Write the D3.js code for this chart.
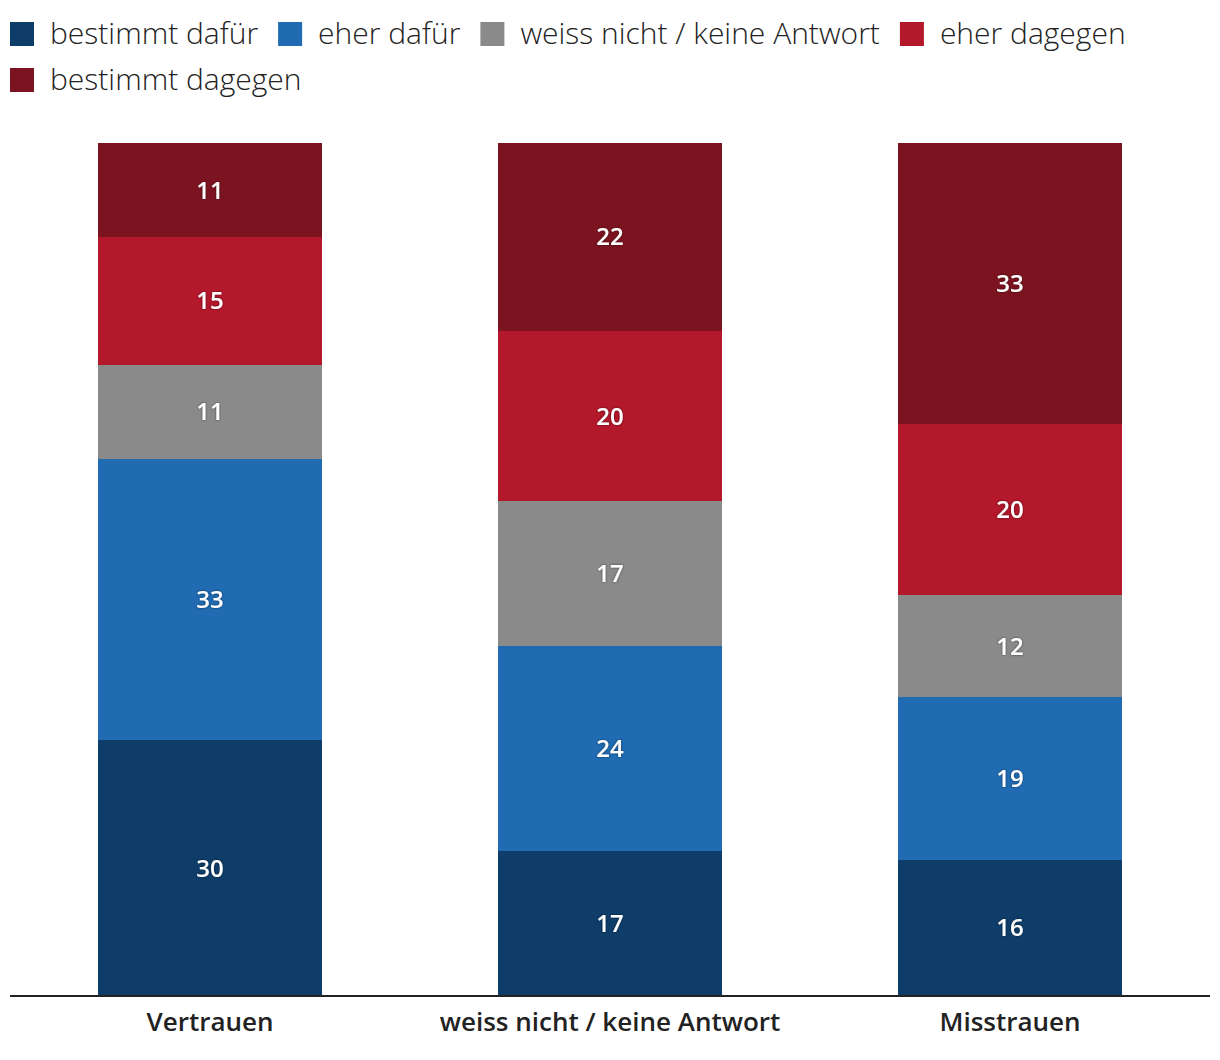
<!DOCTYPE html>
<html><head><meta charset="utf-8">
<script src="https://cdn.jsdelivr.net/npm/d3@7"></script>
<style>body{margin:0;background:#fff;} svg{display:block;}</style>
</head><body>
<svg id="chart" width="1220" height="1060"></svg>
<script>
const categories = ["Vertrauen", "weiss nicht / keine Antwort", "Misstrauen"];
const seriesNames = ["bestimmt dafür", "eher dafür", "weiss nicht / keine Antwort", "eher dagegen", "bestimmt dagegen"];
const bestimmtDafuer = [30, 17, 16];
const eherDafuer = [33, 24, 19];
const weissNicht = [11, 17, 12];
const eherDagegen = [15, 20, 20];
const bestimmtDagegen = [11, 22, 33];
const colors = ["#0e3d69", "#206bb2", "#8a8a8a", "#b3182b", "#7b1420"];

const seriesValues = [bestimmtDafuer, eherDafuer, weissNicht, eherDagegen, bestimmtDagegen];
const rows = categories.map((c, i) => {
  const r = {cat: c};
  seriesNames.forEach((s, j) => r[s] = seriesValues[j][i]);
  return r;
});
const stacked = d3.stack().keys(seriesNames)(rows);

const svg = d3.select("#chart");
const font = "'Open Sans', 'Noto Sans', sans-serif";

const x = d3.scaleBand().domain(categories).range([10, 1210]).paddingInner(0.44).paddingOuter(0.22);
const y = d3.scaleLinear().domain([0, 100]).range([996, 143]);
const color = d3.scaleOrdinal().domain(seriesNames).range(colors);

const defs = svg.append("defs");
const f = defs.append("filter").attr("id", "sh").attr("x", "-20%").attr("y", "-20%").attr("width", "140%").attr("height", "140%");
f.append("feDropShadow").attr("dx", 0).attr("dy", 0).attr("stdDeviation", 1.2).attr("flood-color", "#000").attr("flood-opacity", 0.6);

const g = svg.append("g");
stacked.forEach(layer => {
  const lg = g.append("g").attr("fill", color(layer.key));
  lg.selectAll("rect").data(layer).join("rect")
    .attr("x", d => x(d.data.cat))
    .attr("width", x.bandwidth())
    .attr("y", d => Math.round(y(d[1])))
    .attr("height", d => Math.round(y(d[0])) - Math.round(y(d[1])))
    .attr("shape-rendering", "crispEdges");
  g.append("g").selectAll("text").data(layer).join("text")
    .attr("x", d => x(d.data.cat) + x.bandwidth() / 2)
    .attr("y", d => (y(d[0]) + y(d[1])) / 2)
    .attr("dy", "0.36em")
    .attr("text-anchor", "middle")
    .attr("fill", "#fff")
    .attr("filter", "url(#sh)")
    .style("font-family", font)
    .style("font-weight", 600)
    .style("font-size", "24px")
    .text(d => d[1] - d[0]);
});

// axis
const ax = svg.append("g").attr("transform", "translate(0,996)").call(d3.axisBottom(x).tickSize(0).tickPadding(13));
ax.select(".domain").attr("stroke", "#222").attr("stroke-width", 2).attr("d", "M10,0H1210");
ax.selectAll("text").style("font-family", font).style("font-size", "26px").style("font-weight", 600).attr("fill", "#222").attr("dy", "0.85em");

// legend
const leg = svg.append("g");
let lx = 10, ly = 22;
seriesNames.forEach((s, i) => {
  const item = leg.append("g");
  const t = item.append("text").attr("x", 40).attr("y", 22).text(s)
    .style("font-family", font).style("font-size", "30px").style("font-weight", 300).attr("fill", "#222");
  const w = 40 + t.node().getComputedTextLength();
  if (lx + w > 1210) { lx = 10; ly += 46; }
  item.attr("transform", `translate(${lx},${ly})`);
  item.insert("rect", "text").attr("x", 0).attr("y", 0).attr("width", 24).attr("height", 24).attr("fill", colors[i]);
  lx += w + 20;
});
</script>
</body></html>
